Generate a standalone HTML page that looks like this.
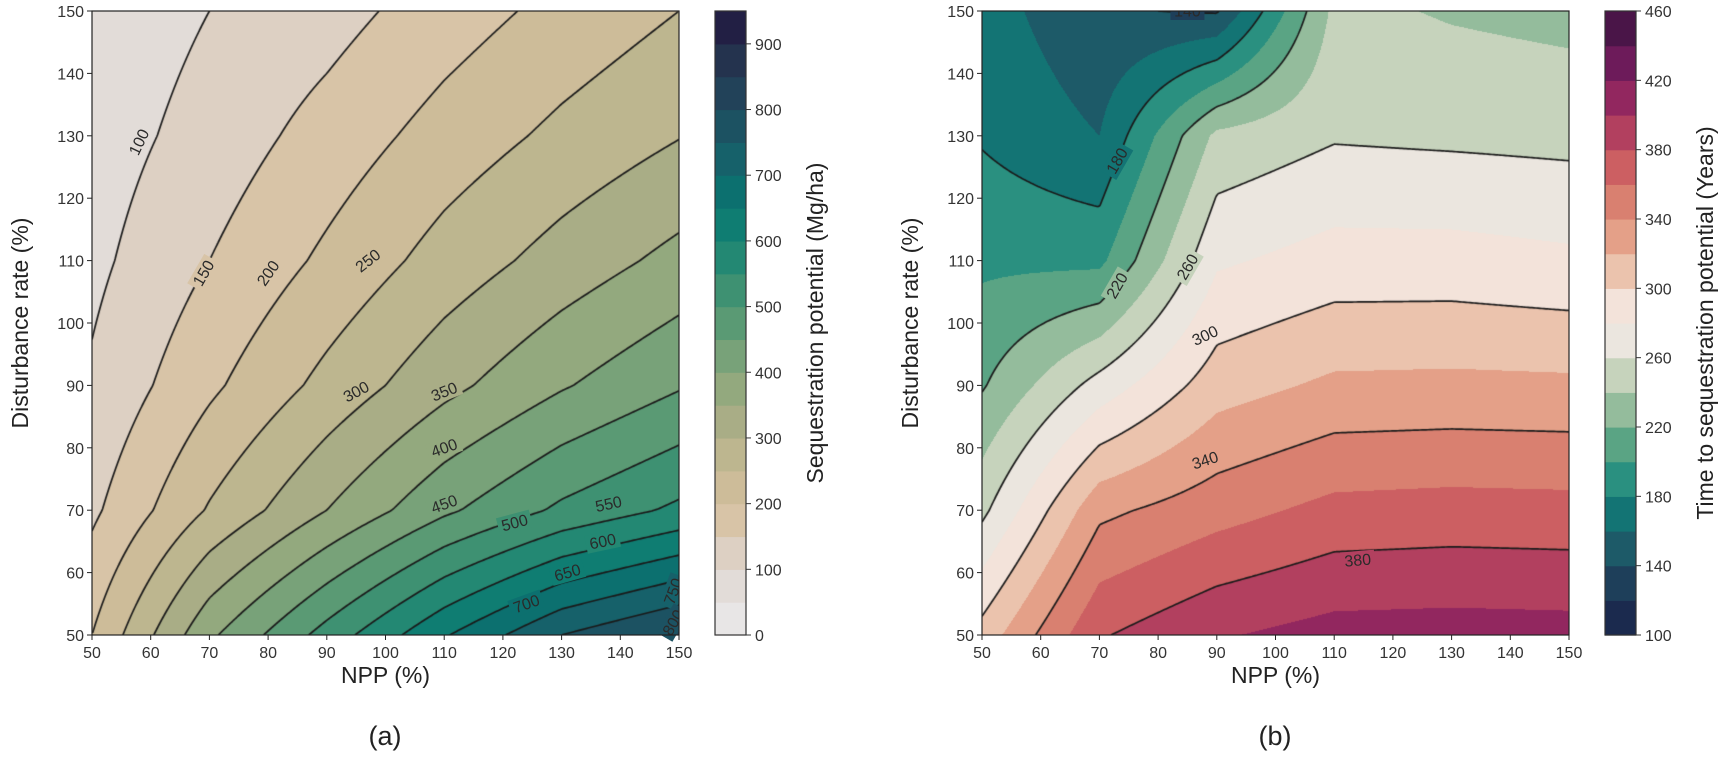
<!DOCTYPE html>
<html><head><meta charset="utf-8">
<style>
body{margin:0;background:#fff;width:1725px;height:762px;overflow:hidden;position:relative;font-family:"Liberation Sans",sans-serif;}
canvas{position:absolute;}
svg{position:absolute;left:0;top:0;}
</style></head>
<body>
<canvas id="ca" width="587" height="624" style="left:92px;top:11px"></canvas>
<canvas id="cb" width="587" height="624" style="left:982px;top:11px"></canvas>
<svg id="ov" width="1725" height="762"></svg>
<script>
const nppGrid=[50,70,90,110,130,150];
const distGrid=[50,70,90,110,130,150];
// rows by disturbance (50..150), columns by NPP (50..150)
const seqRow50=[200,390,520,645,750,810];
const seqRow70=[140,255,350,440,510,560];
const seqRow90=[107,190,265,335,395,445];
const seqRow110=[88,150,210,270,320,365];
const seqRow130=[75,120,170,220,262,298];
const seqRow150=[65,100,130,175,215,250];
const timeRow50=[308,378,398,408,409,408];
const timeRow70=[255,335,352,366,368,367];
const timeRow90=[218,268,311,324,325,324];
const timeRow110=[196,195,277,288,288,284];
const timeRow130=[178,160,245,258,256,254];
const timeRow150=[170,142,138,245,238,234];
const levelsA=[0,50,100,150,200,250,300,350,400,450,500,550,600,650,700,750,800,850,900,950];
const colorsA=["#e8e6e6","#e2dcd8","#ddd0c3","#d8c4a7","#cdbc99","#bdb68f","#a9ad86","#93a97e","#78a279","#5a9a74","#3e9172","#238873","#0f7d72","#0c706f","#16616a","#1c5262","#224259","#24334e","#221f44"];
const lineLevelsA=[100,150,200,250,300,350,400,450,500,550,600,650,700,750,800];
const levelsB=[100,120,140,160,180,200,220,240,260,280,300,320,340,360,380,400,420,440,460];
const colorsB=["#1b2a4e","#1e3f5a","#1d5a68","#137474","#2a9080","#5aa484","#94bc9c","#c6d3bc","#ebe6df","#f3e3da","#ebc3ad","#e4a088","#d98070","#cc5f62","#b2405f","#92275f","#6d1b5a","#4a1548"];
const lineLevelsB=[140,180,220,260,300,340,380];
const xTicks=[50,60,70,80,90,100,110,120,130,140,150];
const yTicks=[50,60,70,80,90,100,110,120,130,140,150];
const cbTicksA=[0,100,200,300,400,500,600,700,800,900];
const cbTicksB=[100,140,180,220,260,300,340,380,420,460];
// inline contour labels: value, npp, dist, angle
const labelsA=[[100,58,129,-65],[150,69,108,-60],[200,80,108,-55],[250,97,110,-38],[300,95,89,-28],[350,110,89,-22],[400,110,80,-20],[450,110,71,-20],[500,122,68,-15],[550,138,71,-12],[600,137,65,-12],[650,131,60,-16],[700,124,55,-20],[750,149,57,-70],[800,149,52,-60]];
const labelsB=[[140,85,150,0],[180,73,126,-60],[220,73,106,-60],[260,85,109,-60],[300,88,98,-25],[340,88,78,-18],[380,114,62,-5]];

const seqRows=[seqRow50,seqRow70,seqRow90,seqRow110,seqRow130,seqRow150];
const timeRows=[timeRow50,timeRow70,timeRow90,timeRow110,timeRow130,timeRow150];
const NS="http://www.w3.org/2000/svg";
const ov=document.getElementById('ov');
const PW=587,PH=624,TOP=11;
function field(rows,npp,dist){
  let i=0;while(i<nppGrid.length-2&&npp>nppGrid[i+1])i++;
  let j=0;while(j<distGrid.length-2&&dist>distGrid[j+1])j++;
  const tx=(npp-nppGrid[i])/(nppGrid[i+1]-nppGrid[i]);
  const ty=(dist-distGrid[j])/(distGrid[j+1]-distGrid[j]);
  const a=rows[j][i],b=rows[j][i+1],c=rows[j+1][i],d=rows[j+1][i+1];
  return a*(1-tx)*(1-ty)+b*tx*(1-ty)+c*(1-tx)*ty+d*tx*ty;
}
const xs=v=>(v-50)/100*PW; const ys=v=>(150-v)/100*PH;
const ix=p=>50+p/PW*100; const iy=p=>150-p/PH*100;
function hex(h){return [parseInt(h.substr(1,2),16),parseInt(h.substr(3,2),16),parseInt(h.substr(5,2),16)];}
function colorFor(v,levels,colors){
  let k=0;while(k<colors.length-1&&v>=levels[k+1])k++;return colors[k];
}
function drawPlot(id,rows,levels,colors,lineLevels){
  const cv=document.getElementById(id),ctx=cv.getContext('2d');
  const img=ctx.createImageData(PW,PH);const rgb=colors.map(hex);
  for(let py=0;py<PH;py++)for(let px=0;px<PW;px++){
    const v=field(rows,ix(px+0.5),iy(py+0.5));
    let k=0;while(k<colors.length-1&&v>=levels[k+1])k++;
    const o=(py*PW+px)*4;img.data[o]=rgb[k][0];img.data[o+1]=rgb[k][1];img.data[o+2]=rgb[k][2];img.data[o+3]=255;
  }
  ctx.putImageData(img,0,0);
  const s=2,nx=Math.ceil(PW/s)+1,ny=Math.ceil(PH/s)+1;
  const g=[];for(let j=0;j<ny;j++){g.push([]);for(let i=0;i<nx;i++)g[j].push(field(rows,ix(Math.min(i*s,PW)),iy(Math.min(j*s,PH))));}
  ctx.strokeStyle='#1a1a1a';ctx.lineWidth=1.7;ctx.beginPath();
  lineLevels.forEach(L=>{
    for(let j=0;j<ny-1;j++)for(let i=0;i<nx-1;i++){
      const x0=i*s,y0=j*s,x1=Math.min((i+1)*s,PW),y1=Math.min((j+1)*s,PH);
      const a=g[j][i],b=g[j][i+1],c=g[j+1][i+1],d=g[j+1][i];
      const pts=[];
      if((a-L)*(b-L)<0)pts.push([x0+(L-a)/(b-a)*(x1-x0),y0]);
      if((b-L)*(c-L)<0)pts.push([x1,y0+(L-b)/(c-b)*(y1-y0)]);
      if((d-L)*(c-L)<0)pts.push([x0+(L-d)/(c-d)*(x1-x0),y1]);
      if((a-L)*(d-L)<0)pts.push([x0,y0+(L-a)/(d-a)*(y1-y0)]);
      for(let k=0;k+1<pts.length;k+=2){ctx.moveTo(pts[k][0],pts[k][1]);ctx.lineTo(pts[k+1][0],pts[k+1][1]);}
    }
  });
  ctx.stroke();
}
drawPlot('ca',seqRows,levelsA,colorsA,lineLevelsA);
drawPlot('cb',timeRows,levelsB,colorsB,lineLevelsB);

function el(tag,attrs,text){const e=document.createElementNS(NS,tag);for(const k in attrs)e.setAttribute(k,attrs[k]);if(text!==undefined)e.textContent=text;ov.appendChild(e);return e;}

function inlineLabels(ox,rows,levels,colors,labels){
  labels.forEach(l=>{
    const x=ox+xs(l[1]),y=TOP+ys(l[2]);
    const bg=colorFor(field(rows,l[1],l[2]),levels,colors);
    const r=el('rect',{x:-17,y:-9,width:34,height:18,fill:bg,transform:`translate(${x},${y}) rotate(${l[3]})`});
    
    
    const t=el('text',{x:0,y:5.5,'text-anchor':'middle','font-size':'16',fill:'#2a2a2a',transform:`translate(${x},${y}) rotate(${l[3]})`},String(l[0]));
    
    
  });
}
inlineLabels(92,seqRows,levelsA,colorsA,labelsA);
inlineLabels(982,timeRows,levelsB,colorsB,labelsB);
el('rect',{x:90,y:0,width:1500,height:TOP,fill:'#fff'});
el('rect',{x:679.5,y:0,width:30,height:640,fill:'#fff'});

function axes(ox,name){
  const f=el('rect',{x:ox,y:TOP,width:PW,height:PH,fill:'none',stroke:'#222','stroke-width':1.2});
  
  
  xTicks.forEach(v=>{
    const x=ox+xs(v);
    el('line',{x1:x,y1:TOP+PH,x2:x,y2:TOP+PH+5,stroke:'#222','stroke-width':1});
    const t=el('text',{x:x,y:TOP+PH+23,'text-anchor':'middle','font-size':'16',fill:'#333'},String(v));
    
    
  });
  yTicks.forEach(v=>{
    const y=TOP+ys(v);
    el('line',{x1:ox-5,y1:y,x2:ox,y2:y,stroke:'#222','stroke-width':1});
    const t=el('text',{x:ox-8,y:y+6,'text-anchor':'end','font-size':'16',fill:'#333'},String(v));
    
    
  });
  const xl=el('text',{x:ox+PW/2,y:683,'text-anchor':'middle','font-size':'23',fill:'#222'},'NPP (%)');
  
  
  const yl=el('text',{x:0,y:0,'text-anchor':'middle','font-size':'23',fill:'#222',transform:`translate(${ox-64},${TOP+PH/2}) rotate(-90)`},'Disturbance rate (%)');
  
  
}
axes(92,'panel-a');axes(982,'panel-b');

function colorbar(x0,levels,colors,ticks,title,name){
  const w=31,h=PH,lo=levels[0],hi=levels[levels.length-1];
  const cy=v=>TOP+h-(v-lo)/(hi-lo)*h;
  colors.forEach((c,k)=>{
    const r=el('rect',{x:x0,y:cy(levels[k+1]),width:w,height:cy(levels[k])-cy(levels[k+1])+0.6,fill:c});
    
    
  });
  el('rect',{x:x0,y:TOP,width:w,height:h,fill:'none',stroke:'#333','stroke-width':1.2});
  ticks.forEach(v=>{
    const y=cy(v);
    el('line',{x1:x0+w,y1:y,x2:x0+w+5,y2:y,stroke:'#333','stroke-width':1});
    const t=el('text',{x:x0+w+9,y:y+6,'font-size':'16',fill:'#333'},String(v));
    
    
  });
  const tt=el('text',{x:0,y:0,'text-anchor':'middle','font-size':'23',fill:'#222',transform:`translate(${x0+w+77},${TOP+h/2}) rotate(-90)`},title);
  
  
}
colorbar(715,levelsA,colorsA,cbTicksA,'Sequestration potential (Mg/ha)','colorbar-a');
colorbar(1605,levelsB,colorsB,cbTicksB,'Time to sequestration potential (Years)','colorbar-b');
const pa=el('text',{x:385,y:745,'text-anchor':'middle','font-size':'27',fill:'#222'},'(a)');


const pb=el('text',{x:1275,y:745,'text-anchor':'middle','font-size':'27',fill:'#222'},'(b)');


</script>
</body></html>
